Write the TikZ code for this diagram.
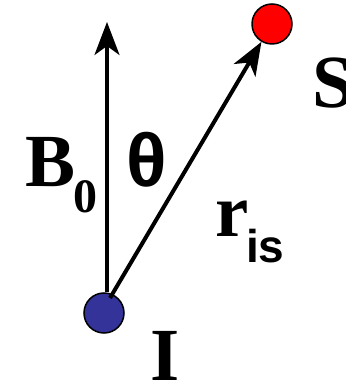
\documentclass[tikz,border=0pt]{standalone}
\usepackage{fontspec}
\setmainfont{Liberation Serif}
\newfontfamily\greekfont{Liberation Sans}
\usetikzlibrary{arrows.meta,positioning}
\definecolor{myblue}{RGB}{51,51,153}
\definecolor{myred}{RGB}{255,0,0}

\begin{document}
\begin{tikzpicture}[x=1pt, y=1pt, >={Stealth[length=33pt,width=25pt,inset=9pt]},
        ball/.style={circle, draw=black, line width=1.5pt, minimum size=40pt, inner sep=0pt},
        bigtxt/.style={anchor=base west, inner sep=0pt, font=\fontsize{75}{80}\selectfont\bfseries},
        subtxt/.style={anchor=base west, inner sep=0pt, font=\fontsize{48}{52}\selectfont\bfseries}]
        \useasboundingbox (0,0) rectangle (345,385);

        % -- spins: I at the bottom, S up and to the right --
        \node[ball, fill=myblue] (I) at (104,72) {};
        \node[ball, fill=myred]  (S) at (272,361) {};

        % -- field direction B0 --
        \coordinate (Btip) at (107,363);
        \draw[->, line width=3.3pt] (I.north -| Btip) -- (Btip);

        % -- vector r_is from I to S --
        \coordinate (Ifoot) at (110,87);
        \draw[->, line width=4pt] (Ifoot) -- (S);

        % -- labels --
        \node[bigtxt] (Blab) at (25,198) {B};
        \node[subtxt] (Bsub) at (73,172) {0};
        \node[bigtxt, font=\fontsize{75}{80}\selectfont\greekfont\bfseries] (th) at (126,198) {θ};
        \node[bigtxt] (Slab) at (312,277) {S};
        \node[bigtxt] (rlab) at (215,148) {r};
        \node[subtxt, font=\fontsize{46}{50}\selectfont\greekfont\bfseries] (rsub) at (246,122) {is};
        \node[bigtxt] (Ilab) at (150,5) {I};

    \end{tikzpicture}
\end{document}
